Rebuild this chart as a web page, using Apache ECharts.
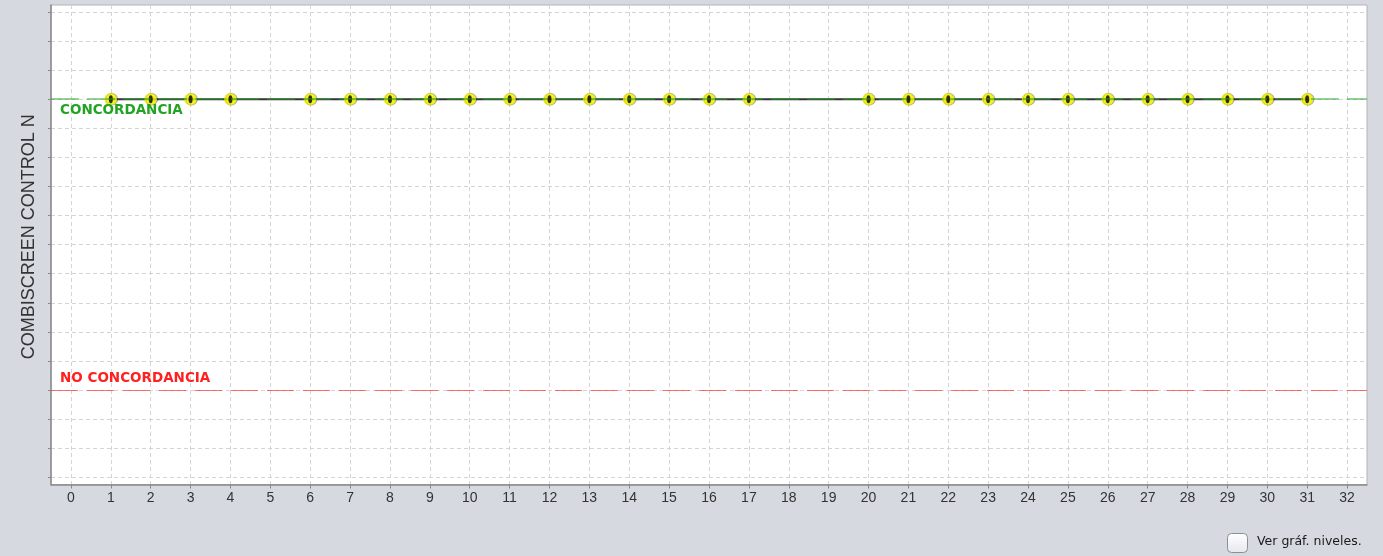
<!DOCTYPE html>
<html>
<head>
<meta charset="utf-8">
<script src="https://cdn.jsdelivr.net/npm/echarts@6/dist/echarts.min.js"></script>
<style>
html,body{margin:0;padding:0;background:#d6d9e0;}
#chart{width:1383px;height:556px;}
</style>
</head>
<body>
<div id="chart"></div>
<script>
// ---- data ----
var days = [1,2,3,4,6,7,8,9,10,11,12,13,14,15,16,17,20,21,22,23,24,25,26,27,28,29,30,31];
var values = [1,1,1,1,1,1,1,1,1,1,1,1,1,1,1,1,1,1,1,1,1,1,1,1,1,1,1,1];
var xTicks = [0,1,2,3,4,5,6,7,8,9,10,11,12,13,14,15,16,17,18,19,20,21,22,23,24,25,26,27,28,29,30,31,32];
var yTicks = [-0.3,-0.2,-0.1,0,0.1,0.2,0.3,0.4,0.5,0.6,0.7,0.8,0.9,1.0,1.1,1.2,1.3];
var concordanciaLevel = 1;
var noConcordanciaLevel = 0;
var yAxisTitle = 'COMBISCREEN CONTROL N';
var checkboxText = 'Ver gráf. niveles.';

var points = days.map(function (d, i) { return [d, values[i]]; });

var chart = echarts.init(document.getElementById('chart'), null, {renderer: 'canvas'});
chart.setOption({
  backgroundColor: '#d6d9e0',
  animation: false,
  grid: {
    left: 51, right: 16, top: 5, bottom: 71.5,
    show: true, backgroundColor: '#ffffff',
    borderColor: '#b4b4b4', borderWidth: 1
  },
  xAxis: {
    type: 'value', min: -0.5, max: 32.5,
    axisLine: {show: true, onZero: false, lineStyle: {color: '#8a8a8a', width: 1.5}},
    axisTick: {show: true, length: 4, customValues: xTicks, lineStyle: {color: '#8a8a8a'}},
    axisLabel: {show: true, customValues: xTicks, margin: 7,
      fontFamily: 'Liberation Sans', fontSize: 14, color: '#333'},
    splitLine: {show: true, lineStyle: {color: '#d4d4d4', type: [4, 3], width: 1}}
  },
  yAxis: {
    type: 'value', min: -0.325, max: 1.324,
    name: yAxisTitle, nameLocation: 'middle', nameGap: 13, nameRotate: 90,
    nameTextStyle: {fontFamily: 'Liberation Sans', fontSize: 18, color: '#333', padding: [0, 0, 0, 16]},
    axisLine: {show: true, onZero: false, lineStyle: {color: '#8a8a8a', width: 1.5}},
    axisTick: {show: true, length: 3, customValues: yTicks, lineStyle: {color: '#8a8a8a'}},
    axisLabel: {show: false, customValues: yTicks},
    splitLine: {show: true, lineStyle: {color: '#d4d4d4', type: [4, 3], width: 1}}
  },
  series: [
    {
      type: 'line', data: points, z: 1,
      symbol: 'none', connectNulls: true,
      lineStyle: {color: '#333333', width: 2}
    },
    {
      type: 'line', data: [], z: 2,
      markLine: {
        silent: true, symbol: 'none', animation: false,
        data: [
          {
            yAxis: concordanciaLevel,
            lineStyle: {color: 'rgba(40,165,40,0.65)', width: 1.5, type: [28, 8]},
            label: {show: true, position: 'insideStartBottom', formatter: 'CONCORDANCIA',
              color: '#22a322', fontFamily: 'DejaVu Sans', fontWeight: 'bold', fontSize: 13.5,
              distance: [9, 4]}
          },
          {
            yAxis: noConcordanciaLevel,
            lineStyle: {color: 'rgba(255,40,40,0.65)', width: 1, type: [27, 9]},
            label: {show: true, position: 'insideStartTop', formatter: 'NO CONCORDANCIA',
              color: '#ff2020', fontFamily: 'DejaVu Sans', fontWeight: 'bold', fontSize: 13.5,
              distance: [9, 4]}
          }
        ]
      }
    },
    {
      type: 'scatter', data: points, z: 3,
      symbol: 'circle', symbolSize: 12,
      itemStyle: {color: '#ffff00', borderColor: '#d8d800', borderWidth: 0.5,
        shadowColor: 'rgba(0,0,0,0.35)', shadowBlur: 0, shadowOffsetX: 1}
    },
    {
      type: 'scatter', data: points, z: 4,
      symbol: 'circle', symbolSize: [4, 8],
      itemStyle: {color: '#000000'}
    }
  ],
  graphic: [
    {
      type: 'rect', left: 1227, top: 533,
      shape: {width: 20, height: 19, r: 4},
      style: {
        fill: new echarts.graphic.LinearGradient(0, 0, 0, 1, [
          {offset: 0, color: '#ffffff'}, {offset: 1, color: '#e6e8ec'}]),
        stroke: '#8c8f96', lineWidth: 1
      }
    },
    {
      type: 'text', left: 1257, top: 535,
      style: {text: checkboxText, fontFamily: 'DejaVu Sans', fontSize: 12.5, fill: '#1a1a1a'}
    }
  ]
});
</script>
</body>
</html>
